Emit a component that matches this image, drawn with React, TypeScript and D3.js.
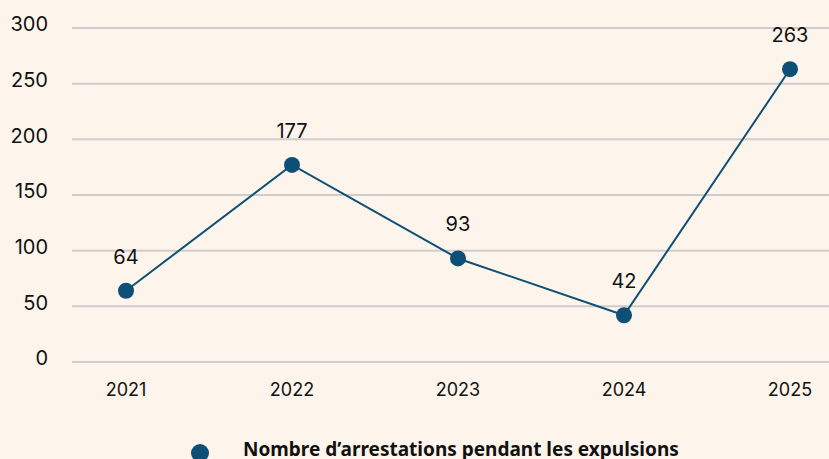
import * as d3 from "d3";
import { useEffect, useRef } from "react";

const years = ["2021", "2022", "2023", "2024", "2025"];
const arrests = [64, 177, 93, 42, 263];
const yTicks = [0, 50, 100, 150, 200, 250, 300];
const seriesName = "Nombre d’arrestations pendant les expulsions";

const App = () => {
  const svgRef = useRef<SVGSVGElement>(null);

  useEffect(() => {
    const width = 829;
    const height = 459;
    const blue = "#0e4f75";
    const font = "Inter, 'Open Sans', sans-serif";

    const svg = d3.select(svgRef.current);
    svg.selectAll("*").remove();
    svg.attr("width", width).attr("height", height).attr("viewBox", [0, 0, width, height]);

    svg.append("rect").attr("width", width).attr("height", height).attr("fill", "#fdf5ec");

    const x = d3.scalePoint().domain(years).range([126, 790]);
    const y = d3.scaleLinear().domain([0, 300]).range([362, 28]);

    // gridlines + y labels
    const grid = svg.append("g");
    grid
      .selectAll("line")
      .data(yTicks)
      .join("line")
      .attr("x1", 72)
      .attr("x2", width)
      .attr("y1", (d) => y(d))
      .attr("y2", (d) => y(d))
      .attr("stroke", "#cfcccb")
      .attr("stroke-width", 2);

    grid
      .selectAll("text")
      .data(yTicks)
      .join("text")
      .attr("x", 48)
      .attr("y", (d) => y(d) - 4)
      .attr("dy", "0.36em")
      .attr("text-anchor", "end")
      .style("font-family", font)
      .style("font-size", "20px")
      .style("fill", "#111")
      .text((d) => d);

    // x labels
    svg
      .append("g")
      .selectAll("text")
      .data(years)
      .join("text")
      .attr("x", (d) => x(d)!)
      .attr("y", 396)
      .attr("text-anchor", "middle")
      .style("font-family", font)
      .style("font-size", "18px")
      .style("fill", "#111")
      .text((d) => d);

    const points = years.map((yr, i) => ({ yr, v: arrests[i] }));

    const line = d3
      .line<{ yr: string; v: number }>()
      .x((d) => x(d.yr)!)
      .y((d) => y(d.v));

    svg
      .append("path")
      .datum(points)
      .attr("d", line)
      .attr("fill", "none")
      .attr("stroke", blue)
      .attr("stroke-width", 2);

    svg
      .append("g")
      .selectAll("circle")
      .data(points)
      .join("circle")
      .attr("cx", (d) => x(d.yr)!)
      .attr("cy", (d) => y(d.v))
      .attr("r", 8)
      .attr("fill", blue);

    // value labels
    svg
      .append("g")
      .selectAll("text")
      .data(points)
      .join("text")
      .attr("x", (d) => x(d.yr)!)
      .attr("y", (d) => y(d.v) - 27)
      .attr("text-anchor", "middle")
      .style("font-family", font)
      .style("font-size", "20px")
      .style("fill", "#111")
      .text((d) => d.v);

    // legend
    const legend = svg.append("g");
    legend.append("circle").attr("cx", 200).attr("cy", 453).attr("r", 9).attr("fill", blue);
    legend
      .append("text")
      .attr("x", 243)
      .attr("y", 456)
      .style("font-family", "'Noto Sans', sans-serif")
      .style("font-size", "19px")
      .style("font-weight", "bold")
      .style("fill", "#111")
      .text(seriesName);
  }, []);

  return <svg ref={svgRef} style={{ position: "absolute", left: 0, top: 0 }}></svg>;
};

export default App;
